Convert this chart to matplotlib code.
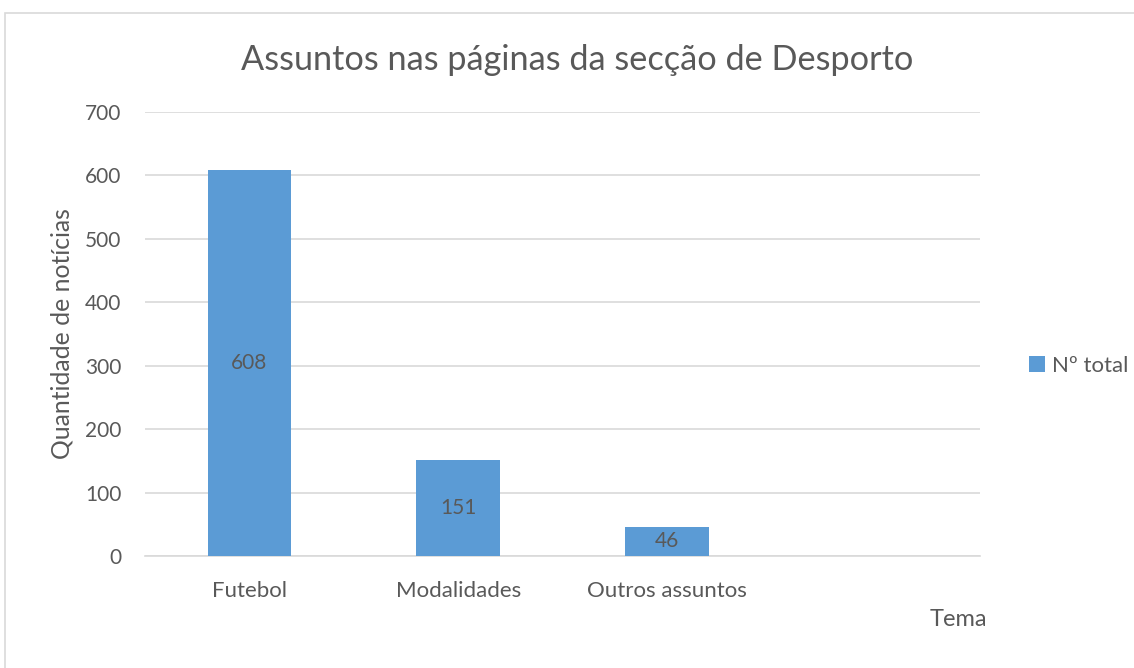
import matplotlib
matplotlib.use("Agg")
import matplotlib.pyplot as plt
from matplotlib.patches import Rectangle

categories = ["Futebol", "Modalidades", "Outros assuntos", ""]
values = [608, 151, 46, None]
yticks = [0, 100, 200, 300, 400, 500, 600, 700]
series_name = "Nº total"

plt.rcParams['font.family'] = ['Lato', 'DejaVu Sans']
TXT = '#595959'
BAR = '#5B9BD5'
GRID = '#D9D9D9'

W, H = 1134, 668
fig = plt.figure(figsize=(W/100, H/100), dpi=100)
fig.patches.append(Rectangle((5/W, -0.1), 1.2, (668-13)/H + 0.1, transform=fig.transFigure,
                             fill=False, edgecolor='#D9D9D9', linewidth=1.2))

ax = fig.add_axes([145/W, (H-556)/H, (980-145)/W, (556-112)/H])
x = list(range(len(categories)))
plot_x = [i for i, v in zip(x, values) if v is not None]
plot_v = [v for v in values if v is not None]
bars = ax.bar(plot_x, plot_v, width=0.4, color=BAR, zorder=3, label=series_name)
ax.bar_label(bars, labels=[str(v) for v in plot_v], label_type='center', color=TXT, fontsize=15)

ax.set_xlim(-0.5, len(categories) - 0.5)
ax.set_ylim(0, 700)
ax.set_yticks(yticks)
ax.set_xticks(x)
ax.set_xticklabels(categories)
ax.tick_params(axis='y', length=0, colors=TXT, labelsize=15, pad=17)
ax.tick_params(axis='x', length=0, colors=TXT, labelsize=16, pad=18)
ax.grid(axis='y', color=GRID, linewidth=1.2, zorder=0)
for s in ['top', 'right', 'left']:
    ax.spines[s].set_visible(False)
ax.spines['bottom'].set_color(GRID)
ax.spines['bottom'].set_linewidth(1.2)

ax.set_ylabel("Quantidade de notícias", color=TXT, fontsize=17.8, labelpad=8)
fig.text(958/W, 1 - 619/H, "Tema", color=TXT, fontsize=17, ha='center', va='center')
fig.text(577/W, 1 - 60/H, "Assuntos nas páginas da secção de Desporto", color=TXT,
         fontsize=24.7, ha='center', va='center')

leg = fig.legend(handles=[bars], labels=[series_name], loc='center left',
                 bbox_to_anchor=(1018/W, 1 - 366/H), frameon=False, fontsize=16,
                 handlelength=0.7, handleheight=0.7, handletextpad=0.35, borderpad=0)
for t in leg.get_texts():
    t.set_color(TXT)

fig.savefig("out.png", dpi=100)
